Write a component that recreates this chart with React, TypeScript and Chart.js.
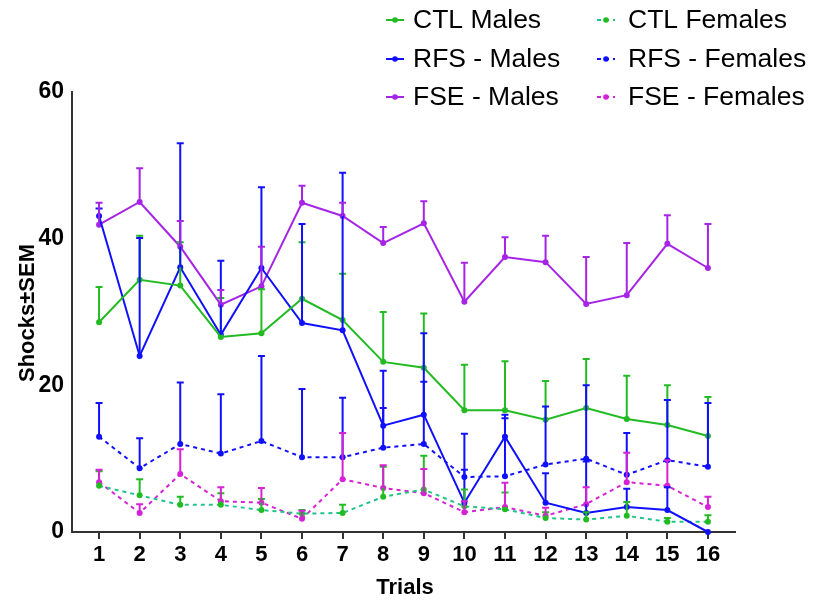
import React, { useEffect, useRef } from "react";
import { Chart, registerables } from "chart.js";

Chart.register(...registerables);

const trials = [1, 2, 3, 4, 5, 6, 7, 8, 9, 10, 11, 12, 13, 14, 15, 16];

const ctlMales = [28.6, 34.4, 33.6, 26.6, 27.1, 31.8, 28.9, 23.2, 22.4, 16.6, 16.6, 15.3, 16.9, 15.4, 14.6, 13.1];
const ctlMalesSem = [4.8, 6.0, 5.9, 5.3, 6.0, 7.7, 6.3, 6.8, 7.4, 6.2, 6.7, 5.3, 6.7, 5.9, 5.4, 5.3];

const rfsMales = [43.1, 24.0, 36.1, 26.9, 36.0, 28.5, 27.5, 14.5, 16.0, 4.0, 13.0, 4.0, 2.6, 3.4, 3.0, 0];
const rfsMalesSem = [1.0, 16.1, 16.9, 10.1, 11.0, 13.5, 21.5, 7.5, 11.1, 9.4, 3.0, 4.0, 7.0, 2.5, 3.1, 0];

const fseMales = [41.9, 45.0, 38.9, 31.0, 33.5, 44.9, 43.1, 39.4, 42.1, 31.4, 37.5, 36.8, 31.1, 32.3, 39.3, 36.0];
const fseMalesSem = [3.0, 4.6, 3.5, 2.0, 5.4, 2.3, 1.8, 2.2, 3.0, 5.3, 2.7, 3.6, 6.4, 7.1, 3.9, 6.0];

const ctlFemales = [6.3, 5.0, 3.7, 3.7, 3.0, 2.5, 2.6, 4.8, 5.8, 3.5, 3.1, 1.9, 1.7, 2.2, 1.4, 1.4];
const ctlFemalesSem = [2.0, 2.2, 1.1, 1.6, 1.5, 0.5, 1.1, 4.1, 4.6, 2.3, 2.3, 0.8, 1.0, 1.9, 0.5, 0.9];

const rfsFemales = [13.0, 8.7, 12.0, 10.7, 12.4, 10.2, 10.2, 11.5, 12.0, 7.5, 7.6, 9.2, 10.0, 7.8, 9.8, 8.9];
const rfsFemalesSem = [4.6, 4.1, 8.4, 8.1, 11.6, 9.3, 8.1, 5.4, 8.5, 1.0, 7.9, 7.9, 10.0, 5.7, 8.2, 8.7];

const fseFemales = [6.8, 2.6, 7.9, 4.2, 4.0, 1.8, 7.2, 6.0, 5.3, 2.7, 3.4, 2.2, 3.8, 6.8, 6.3, 3.4];
const fseFemalesSem = [1.7, 1.2, 3.4, 1.9, 2.0, 1.1, 6.3, 3.1, 3.3, 1.5, 3.3, 1.1, 2.3, 4.0, 3.5, 1.4];

const yTicks = [0, 20, 40, 60];

const FONT = "'Liberation Sans', Arial, Helvetica, sans-serif";

const GREEN = "#22bb22";
const TEAL = "#22c48a";
const BLUE = "#1010ff";
const PURPLE = "#a624e6";
const MAGENTA = "#d622d6";

function mk(label: string, vals: number[], sem: number[], line: string, point: string, dashed: boolean) {
  return {
    label,
    data: trials.map((t, i) => ({ x: t, y: vals[i] })),
    sem,
    borderColor: line,
    backgroundColor: point,
    pointBackgroundColor: point,
    pointBorderColor: point,
    errColor: point,
    borderWidth: 2,
    borderDash: dashed ? [4, 4] : [],
    pointRadius: 3,
    pointBorderWidth: 0,
    dashed,
    tension: 0,
    fill: false,
    clip: false,
  };
}

const errorBars = {
  id: "errorBars",
  afterDatasetsDraw(chart: any) {
    const ctx = chart.ctx;
    const ys = chart.scales.y;
    chart.data.datasets.forEach((ds: any, i: number) => {
      const meta = chart.getDatasetMeta(i);
      meta.data.forEach((pt: any, j: number) => {
        const e = ds.sem[j];
        if (!e) return;
        const top = ys.getPixelForValue(ds.data[j].y + e);
        ctx.save();
        ctx.strokeStyle = ds.errColor;
        ctx.lineWidth = 2;
        ctx.setLineDash([]);
        ctx.beginPath();
        ctx.moveTo(pt.x, pt.y);
        ctx.lineTo(pt.x, top);
        ctx.moveTo(pt.x - 3.5, top);
        ctx.lineTo(pt.x + 3.5, top);
        ctx.stroke();
        ctx.restore();
      });
    });
  },
};

const extras = {
  id: "extras",
  afterDraw(chart: any) {
    const ctx = chart.ctx;
    ctx.save();
    // legend
    const cols = [386, 597];
    const rows = [20, 59, 97];
    chart.data.datasets.forEach((ds: any, i: number) => {
      const c = Math.floor(i / 3);
      const r = i % 3;
      const x0 = cols[c];
      const y = rows[r];
      ctx.strokeStyle = ds.borderColor;
      ctx.lineWidth = 2;
      ctx.setLineDash(ds.dashed ? [4, 4] : []);
      ctx.beginPath();
      ctx.moveTo(x0, y);
      ctx.lineTo(x0 + 18, y);
      ctx.stroke();
      ctx.setLineDash([]);
      ctx.fillStyle = ds.pointBackgroundColor;
      ctx.beginPath();
      ctx.arc(x0 + 9, y, 2.8, 0, Math.PI * 2);
      ctx.fill();
      ctx.fillStyle = "#000";
      ctx.font = `26.5px ${FONT}`;
      ctx.textBaseline = "middle";
      ctx.textAlign = "left";
      ctx.fillText(ds.label, x0 + 27 + (c === 1 ? 4 : 0), y + 1);
    });
    // axis titles
    ctx.fillStyle = "#000";
    ctx.font = `bold 22px ${FONT}`;
    ctx.textAlign = "center";
    ctx.textBaseline = "middle";
    ctx.fillText("Trials", 405, 588);
    ctx.translate(28, 313);
    ctx.rotate(-Math.PI / 2);
    ctx.fillText("Shocks±SEM", 0, 0);
    ctx.restore();
  },
};

export default function App() {
  const ref = useRef<HTMLCanvasElement | null>(null);
  useEffect(() => {
    if (!ref.current) return;
    const chart = new Chart(ref.current, {
      type: "line",
      data: {
        datasets: [
          mk("CTL Males", ctlMales, ctlMalesSem, GREEN, GREEN, false),
          mk("RFS - Males", rfsMales, rfsMalesSem, BLUE, BLUE, false),
          mk("FSE - Males", fseMales, fseMalesSem, PURPLE, PURPLE, false),
          mk("CTL Females", ctlFemales, ctlFemalesSem, TEAL, GREEN, true),
          mk("RFS - Females", rfsFemales, rfsFemalesSem, BLUE, BLUE, true),
          mk("FSE - Females", fseFemales, fseFemalesSem, MAGENTA, MAGENTA, true),
        ] as any,
      },
      options: {
        animation: false,
        responsive: false,
        devicePixelRatio: 1,
        layout: { padding: { top: 92, right: 80, left: 0, bottom: 0 } },
        plugins: { legend: { display: false }, tooltip: { enabled: false } },
        scales: {
          x: {
            type: "linear",
            min: 1 / 3,
            max: 16 + 2 / 3,
            afterBuildTicks: (s: any) => {
              s.ticks = trials.map((v) => ({ value: v }));
            },
            afterFit: (s: any) => {
              s.height = 70;
            },
            grid: { drawOnChartArea: false, drawTicks: true, tickLength: 7, color: "#333", lineWidth: 2 },
            border: { display: true, color: "#333", width: 2 },
            ticks: {
              autoSkip: false,
              maxRotation: 0,
              padding: 3,
              color: "#000",
              font: { family: FONT, size: 22, weight: "bold" },
              callback: (v: any) => String(v),
            },
          },
          y: {
            type: "linear",
            min: 0,
            max: 60,
            afterBuildTicks: (s: any) => {
              s.ticks = yTicks.map((v) => ({ value: v }));
            },
            afterFit: (s: any) => {
              s.width = 72;
            },
            grid: { display: false },
            border: { display: true, color: "#333", width: 2 },
            ticks: {
              padding: 0,
              color: "#000",
              font: { family: FONT, size: 23, weight: "bold" },
              callback: (v: any) => String(v),
            },
          },
        },
      } as any,
      plugins: [errorBars, extras],
    });
    return () => chart.destroy();
  }, []);
  return (
    <div style={{ position: "absolute", left: 0, top: 0, width: 815, height: 602, background: "#fff" }}>
      <canvas ref={ref} width={815} height={602} />
    </div>
  );
}
